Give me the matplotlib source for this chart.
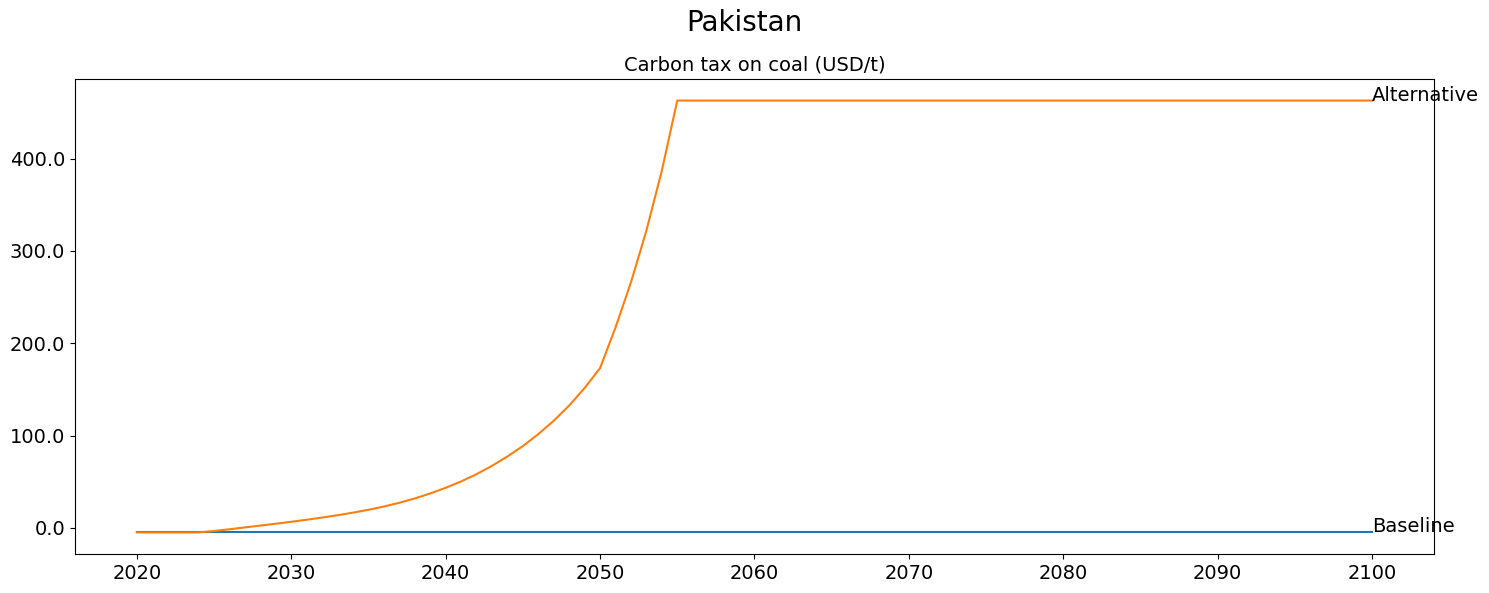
import numpy as np
import matplotlib
matplotlib.use('Agg')
import matplotlib.pyplot as plt
from matplotlib.ticker import FormatStrFormatter

# --- Datos ---
years = list(range(2020, 2101))

baseline = [-5.0] * len(years)

alt_early = [
    -5.0, -5.0, -5.0, -5.0, -5.0,            # 2020-2024
    -3.5, -1.6, 0.4, 2.4, 4.4,               # 2025-2029
    6.5, 8.7, 11.1, 13.6, 16.4,              # 2030-2034
    19.5, 23.0, 27.1, 31.8, 37.2,            # 2035-2039
    43.3, 50.2, 58.1, 67.1, 77.3,            # 2040-2044
    88.5, 101.5, 116.0, 132.5, 151.5,        # 2045-2049
    173.0, 217.0, 266.0, 322.0, 387.0,       # 2050-2054
    463.0,                                   # 2055
]
alternative = alt_early + [463.0] * (len(years) - len(alt_early))

series_names = ['Baseline', 'Alternative']
series_values = [baseline, alternative]

# --- Figura ---
fig = plt.figure(figsize=(14.89, 5.93), dpi=100)
ax = fig.add_axes([0.0504, 0.0658, 0.9126, 0.8010])

for name, vals in zip(series_names, series_values):
    ax.plot(years, vals)
    ax.text(years[-1], vals[-1], name, fontsize=14)

ax.yaxis.set_major_formatter(FormatStrFormatter('%.1f'))
ax.tick_params(labelsize=14)
ax.set_title('Carbon tax on coal (USD/t)', fontsize=14)
fig.suptitle('Pakistan', fontsize=20, y=0.985)

fig.savefig('out.png', dpi=100)
